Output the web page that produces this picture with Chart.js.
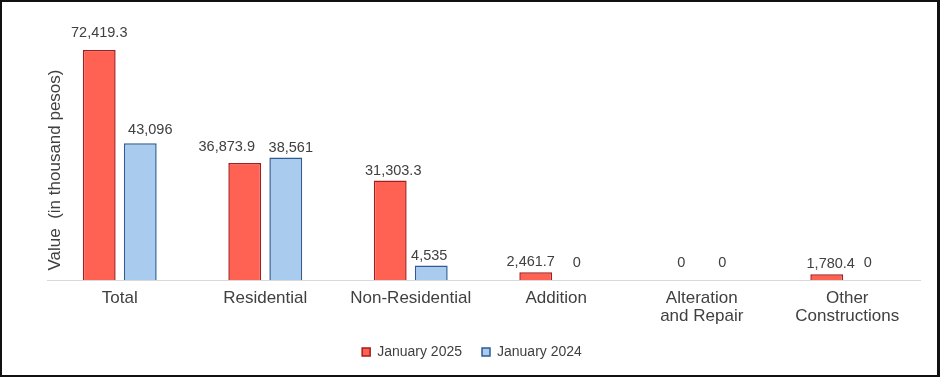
<!DOCTYPE html>
<html>
<head>
<meta charset="utf-8">
<script src="https://cdn.jsdelivr.net/npm/chart.js@4/dist/chart.umd.min.js"></script>
<style>
  html, body { margin: 0; padding: 0; background: #ffffff; }
  #wrap { position: relative; width: 940px; height: 380px; }
  #frame { position: absolute; left: 0; top: 0; width: 940px; height: 377px; box-sizing: border-box;
           border-top: 2px solid #111; border-left: 2px solid #111; border-right: 3px solid #111; border-bottom: 2px solid #111; }
  canvas { position: absolute; left: 0; top: 0; }
</style>
</head>
<body>
<div id="wrap">
  <div id="frame"></div>
  <canvas id="c" width="940" height="380"></canvas>
</div>
<script>
const categories = ['Total', 'Residential', 'Non-Residential', 'Addition', ['Alteration', 'and Repair'], ['Other', 'Constructions']];
const seriesNames = ['January 2025', 'January 2024'];
const jan2025 = [72419.3, 36873.9, 31303.3, 2461.7, 0, 1780.4];
const jan2024 = [43096, 38561, 4535, 0, 0, 0];
const yAxisTitle = 'Value  (in thousand pesos)';

function fmt(v) {
  const neg = v < 0; v = Math.abs(v);
  let s = (Math.round(v * 10) / 10).toString();
  let [ip, dp] = s.split('.');
  ip = ip.replace(/\B(?=(\d{3})+(?!\d))/g, ',');
  return (neg ? '-' : '') + ip + (dp ? '.' + dp : '');
}

const labelPlugin = {
  id: 'barLabels',
  afterDatasetsDraw(chart, args, opts) {
    const ctx = chart.ctx;
    ctx.save();
    ctx.font = '14.5px "Liberation Sans", Arial, sans-serif';
    ctx.fillStyle = '#404040';
    ctx.textAlign = 'center';
    ctx.textBaseline = 'middle';
    chart.data.datasets.forEach((ds, di) => {
      const meta = chart.getDatasetMeta(di);
      meta.data.forEach((el, i) => {
        const off = (opts.offsets[di] && opts.offsets[di][i]) || [0, 0];
        const v = ds.data[i];
        const extra = v === 0 ? -7 : 0;
        ctx.fillText(fmt(v), el.x + off[0], el.y - 10 + off[1] + extra);
      });
    });
    ctx.restore();
  }
};

const yTitlePlugin = {
  id: 'yTitle',
  afterDraw(chart, args, opts) {
    const ctx = chart.ctx;
    ctx.save();
    ctx.font = '17px "Liberation Sans", Arial, sans-serif';
    ctx.fillStyle = '#404040';
    ctx.textAlign = 'center';
    ctx.textBaseline = 'middle';
    ctx.translate(opts.x, opts.y);
    ctx.rotate(-Math.PI / 2);
    ctx.fillText(opts.text, 0, 0);
    ctx.restore();
  }
};

new Chart(document.getElementById('c'), {
  type: 'bar',
  data: {
    labels: categories,
    datasets: [
      { label: seriesNames[0], data: jan2025, backgroundColor: '#FF6153', borderColor: '#A51C1C', borderWidth: 1.5,
        categoryPercentage: 0.564, barPercentage: 0.8 },
      { label: seriesNames[1], data: jan2024, backgroundColor: '#A9CBEE', borderColor: '#2E5C94', borderWidth: 1.5,
        categoryPercentage: 0.564, barPercentage: 0.8 }
    ]
  },
  options: {
    responsive: false,
    animation: false,
    devicePixelRatio: 1,
    layout: { padding: { top: 26, right: 20, bottom: 11, left: 24 } },
    plugins: {
      legend: {
        position: 'bottom',
        labels: { boxWidth: 8, boxHeight: 8, font: { size: 14, family: '"Liberation Sans", Arial, sans-serif' }, color: '#404040', padding: 20 }
      },
      tooltip: { enabled: false },
      barLabels: { offsets: [ [[0,-7],[-18,-6],[3,0],[-5,0],[0,0],[4,0]], [[10,-3],[5,0],[-2,0],[0,0],[0,0],[0,0]] ] },
      yTitle: { text: yAxisTitle, x: 55, y: 170 }
    },
    scales: {
      x: {
        grid: { display: false, drawTicks: false },
        border: { display: true, color: '#D9D9D9', width: 1 },
        ticks: { color: '#404040', padding: 9, maxRotation: 0, autoSkip: false,
                 font: { size: 17, family: '"Liberation Sans", Arial, sans-serif', lineHeight: 1.08 } },
        afterFit(scale) { scale.height = 45; }
      },
      y: {
        min: 0, max: 80000,
        grid: { display: false, drawTicks: false },
        border: { display: false },
        ticks: { display: false },
        afterFit(scale) { scale.width = 23; }
      }
    }
  },
  plugins: [labelPlugin, yTitlePlugin]
});
</script>
</body>
</html>
